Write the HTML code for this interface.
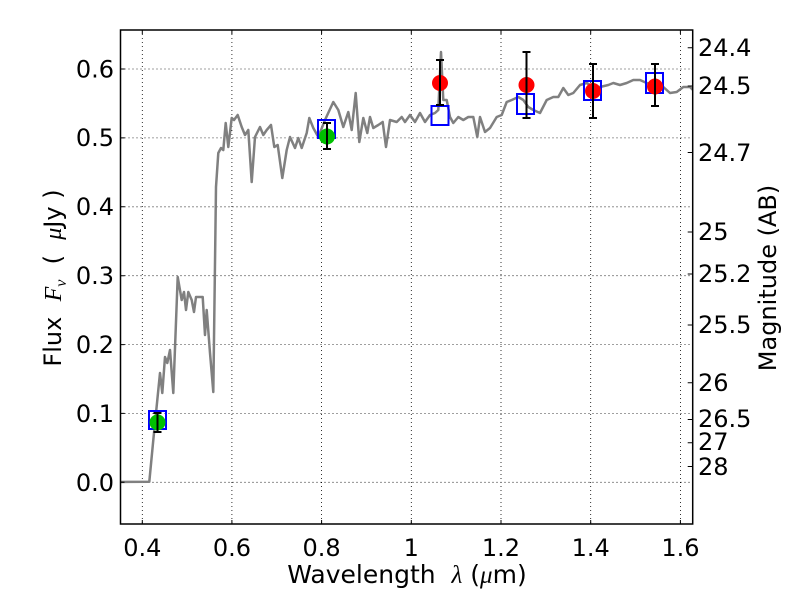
<!DOCTYPE html>
<html><head><meta charset="utf-8"><style>
html,body{margin:0;padding:0;background:#fff;}
svg{display:block;font-family:"DejaVu Sans","Liberation Sans",sans-serif;}
</style></head><body>
<svg width="800" height="600" viewBox="0 0 800 600" xmlns="http://www.w3.org/2000/svg">
<defs><clipPath id="c"><rect x="120.5" y="30" width="572.2" height="494"/></clipPath></defs>
<g stroke="#000" stroke-width="0.8" stroke-dasharray="1,3" fill="none">
<line x1="142.3" y1="30" x2="142.3" y2="524"/>
<line x1="231.9" y1="30" x2="231.9" y2="524"/>
<line x1="321.6" y1="30" x2="321.6" y2="524"/>
<line x1="411.3" y1="30" x2="411.3" y2="524"/>
<line x1="501" y1="30" x2="501" y2="524"/>
<line x1="590.7" y1="30" x2="590.7" y2="524"/>
<line x1="680.4" y1="30" x2="680.4" y2="524"/>
<line x1="120.5" y1="482.3" x2="692.7" y2="482.3"/>
<line x1="120.5" y1="413.4" x2="692.7" y2="413.4"/>
<line x1="120.5" y1="344.6" x2="692.7" y2="344.6"/>
<line x1="120.5" y1="275.7" x2="692.7" y2="275.7"/>
<line x1="120.5" y1="206.8" x2="692.7" y2="206.8"/>
<line x1="120.5" y1="137.9" x2="692.7" y2="137.9"/>
<line x1="120.5" y1="69" x2="692.7" y2="69"/>
</g>
<g clip-path="url(#c)">
<polyline fill="none" stroke="#808080" stroke-width="2.5" stroke-linejoin="round" points="120,482 149.3,481.7 153.3,440 160,373 162.3,393 165,357 167.3,363 170,350 173.3,393 177.7,277 181.7,300 184,292 186,310 188.3,292 191.7,300 194,312 196,297 200,297 202.7,297 205,335 206.7,310 210,353 213.3,392 216,187 218.3,153 221,148 223.3,150 225.7,123 228.3,147 231.7,118 234,120 237.7,115 241.7,127 245,135 248.3,130 251.7,182 255,137 260,127 263.3,135 266.7,130 271,125 274.3,147 277.7,145 282.3,178 286.7,150 290,137 295,148 298.3,138 301.7,148 306.7,133 309.3,118 313.3,128 318.3,137 325,120 333.3,102 338.3,110 343.3,127 348.3,112 351.7,130 355.7,93 359.3,142 363.3,118 367.3,133 370,117 373.3,128 378.3,125 382.7,122 386,147 390,120 396.7,122 401.7,117 405,122 410,115 415,122 420,113 425,122 430,115 435,113 438.3,110 441,52 443.3,100 446.7,100 450,117 453.3,123 458.3,117 463.3,120 468.3,117 473.3,117 477.3,137 480,117 485,132 490,128 496.7,117 501.7,115 506.7,102 511.7,100 518.3,97 523.3,100 528.3,107 533.3,110 540,113 546.7,100 553.3,97 558.3,97 563.3,88 568.3,95 573.3,93 580,85 586.7,83 593.3,87 600,87 608.3,85 613.3,83 620,85 626.7,83 633.3,80 640,80 646.7,83 653.3,85 663.3,87 670,93 676.7,92 683.3,87 690,87 693,90"/>
</g>
<g fill="none" stroke="#0000ff" stroke-width="2">
<rect x="149" y="411" width="17" height="18"/>
<rect x="318" y="120" width="17" height="18"/>
<rect x="431.5" y="106" width="17" height="19"/>
<rect x="517" y="94" width="17" height="20"/>
<rect x="584" y="81" width="17" height="19"/>
<rect x="646" y="73" width="17" height="20"/>
</g>
<g>
<circle cx="157.5" cy="422.4" r="8" fill="#00c000"/>
<circle cx="327" cy="136.5" r="8" fill="#00c000"/>
<circle cx="440" cy="83" r="8" fill="#ff0000"/>
<circle cx="526.5" cy="85" r="8" fill="#ff0000"/>
<circle cx="593" cy="91" r="8" fill="#ff0000"/>
<circle cx="655" cy="86.5" r="8" fill="#ff0000"/>
</g>
<g stroke="#000" stroke-width="2">
<line x1="157.5" y1="413" x2="157.5" y2="432"/><line x1="153.5" y1="413" x2="161.5" y2="413"/><line x1="153.5" y1="432" x2="161.5" y2="432"/>
<line x1="327" y1="123" x2="327" y2="149"/><line x1="323" y1="123" x2="331" y2="123"/><line x1="323" y1="149" x2="331" y2="149"/>
<line x1="440" y1="60" x2="440" y2="105"/><line x1="436" y1="60" x2="444" y2="60"/><line x1="436" y1="105" x2="444" y2="105"/>
<line x1="526.5" y1="52" x2="526.5" y2="118"/><line x1="522.5" y1="52" x2="530.5" y2="52"/><line x1="522.5" y1="118" x2="530.5" y2="118"/>
<line x1="593" y1="64" x2="593" y2="118"/><line x1="589" y1="64" x2="597" y2="64"/><line x1="589" y1="118" x2="597" y2="118"/>
<line x1="655" y1="64" x2="655" y2="106"/><line x1="651" y1="64" x2="659" y2="64"/><line x1="651" y1="106" x2="659" y2="106"/>
</g>
<g stroke="#000" stroke-width="1">
<path d="M142.3 524v-4M231.9 524v-4M321.6 524v-4M411.3 524v-4M501 524v-4M590.7 524v-4M680.4 524v-4"/>
<path d="M142.3 30v4M231.9 30v4M321.6 30v4M411.3 30v4M501 30v4M590.7 30v4M680.4 30v4"/>
<path d="M120.5 482.3h4M120.5 413.4h4M120.5 344.6h4M120.5 275.7h4M120.5 206.8h4M120.5 137.9h4M120.5 69h4"/>
<path d="M692.7 47.7h-5M692.7 86h-5M692.7 152.5h-5M692.7 232h-5M692.7 274h-5M692.7 325h-5M692.7 382.8h-5M692.7 419.5h-5M692.7 442.7h-5M692.7 466.5h-5"/>
</g>
<rect x="120.5" y="30" width="572.2" height="494" fill="none" stroke="#000" stroke-width="1.5"/>
<g font-size="24" fill="#000" text-anchor="middle">
<text x="142.3" y="556">0.4</text><text x="231.9" y="556">0.6</text><text x="321.6" y="556">0.8</text><text x="411.3" y="556">1</text><text x="501" y="556">1.2</text><text x="590.7" y="556">1.4</text><text x="680.4" y="556">1.6</text>
</g>
<g font-size="24" fill="#000" text-anchor="end">
<text x="114" y="491">0.0</text><text x="114" y="422">0.1</text><text x="114" y="353">0.2</text><text x="114" y="284">0.3</text><text x="114" y="215">0.4</text><text x="114" y="146">0.5</text><text x="114" y="77.5">0.6</text>
</g>
<g font-size="24" fill="#000">
<text x="698" y="56">24.4</text><text x="698" y="94">24.5</text><text x="698" y="161">24.7</text><text x="698" y="240">25</text><text x="698" y="282">25.2</text><text x="698" y="333">25.5</text><text x="698" y="391">26</text><text x="698" y="427">26.5</text><text x="698" y="450">27</text><text x="698" y="475">28</text>
</g>
<text x="407" y="583" font-size="25" text-anchor="middle" xml:space="preserve">Wavelength  <tspan font-family="Liberation Serif" font-style="italic">λ</tspan> (<tspan font-family="Liberation Serif" font-style="italic">μ</tspan>m)</text>
<text transform="translate(61,278) rotate(-90)" font-size="24" text-anchor="middle" xml:space="preserve">Flux  <tspan font-family="Liberation Serif" font-style="italic">F<tspan font-size="16" dy="5">ν</tspan></tspan><tspan dy="-5">  (  </tspan><tspan font-family="Liberation Serif" font-style="italic">μ</tspan>Jy )</text>
<text transform="translate(776,278) rotate(-90)" font-size="24" text-anchor="middle">Magnitude (AB)</text>
</svg>
</body></html>
